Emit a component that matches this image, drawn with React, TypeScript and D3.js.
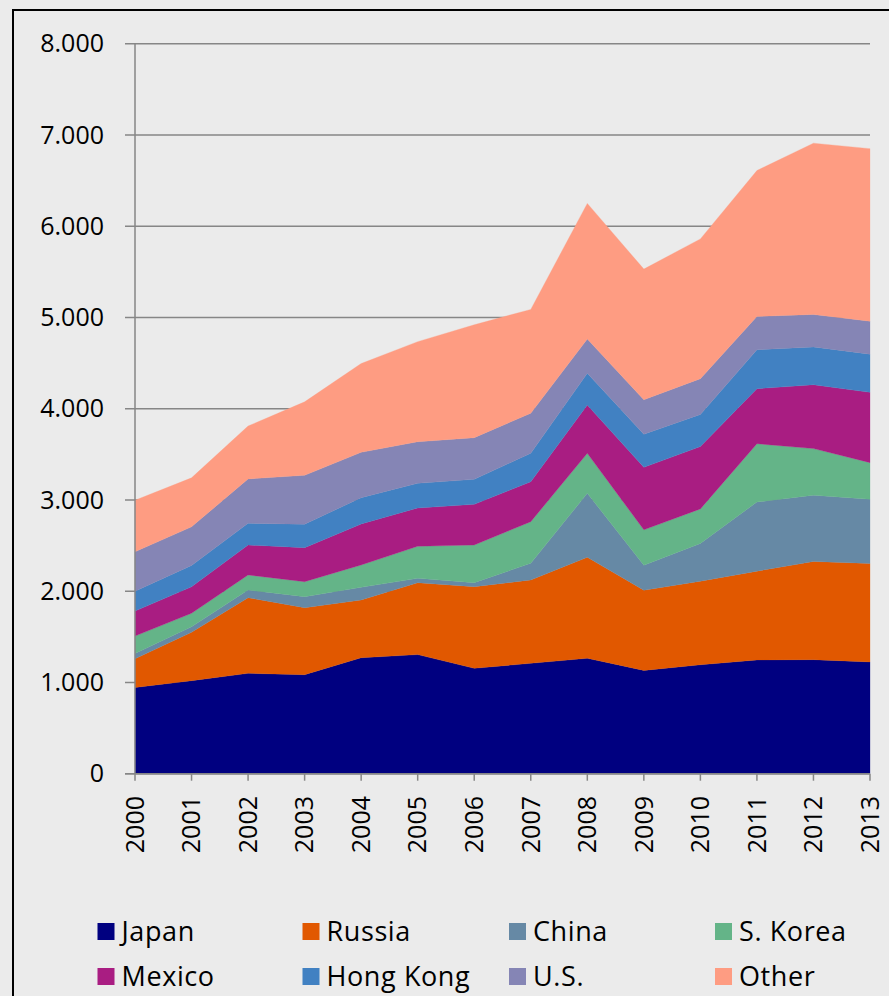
import React from "react";
import * as d3 from "d3";

const years = [2000, 2001, 2002, 2003, 2004, 2005, 2006, 2007, 2008, 2009, 2010, 2011, 2012, 2013];
const japan = [945, 1020, 1100, 1085, 1271, 1305, 1155, 1210, 1265, 1132, 1194, 1247, 1250, 1225];
const russia = [315, 530, 829, 734, 633, 788, 895, 913, 1107, 879, 916, 973, 1076, 1079];
const china = [58, 61, 84, 121, 139, 48, 43, 183, 701, 274, 414, 757, 726, 704];
const sKorea = [190, 147, 165, 164, 244, 351, 413, 456, 438, 388, 378, 639, 511, 401];
const mexico = [274, 290, 328, 373, 449, 420, 446, 438, 530, 684, 683, 603, 700, 770];
const hongKong = [218, 234, 238, 256, 289, 270, 274, 311, 347, 363, 352, 427, 414, 419];
const us = [432, 423, 486, 537, 497, 456, 456, 439, 376, 378, 392, 365, 356, 361];
const other = [565, 537, 580, 805, 973, 1097, 1238, 1138, 1486, 1432, 1532, 1599, 1877, 1891];

const seriesNames = ["Japan", "Russia", "China", "S. Korea", "Mexico", "Hong Kong", "U.S.", "Other"];
const seriesValues = [japan, russia, china, sKorea, mexico, hongKong, us, other];
const seriesColors = ["#000080", "#E15800", "#6689A5", "#64B488", "#A91D82", "#4181C2", "#8585B5", "#FE9C82"];
const yTicks = [0, 1000, 2000, 3000, 4000, 5000, 6000, 7000, 8000];
const yTickLabels = ["0", "1.000", "2.000", "3.000", "4.000", "5.000", "6.000", "7.000", "8.000"];

const W = 889;
const H = 996;
const FONT = "'Open Sans', 'DejaVu Sans', sans-serif";

export default function App() {
  const x = d3.scaleLinear().domain([2000, 2013]).range([135, 870]);
  const y = d3.scaleLinear().domain([0, 8000]).range([773.7, 43.7]);

  const rows = years.map((yr, i) => {
    const r: any = { year: yr };
    seriesNames.forEach((n, k) => (r[n] = seriesValues[k][i]));
    return r;
  });
  const stacked = d3.stack<any>().keys(seriesNames)(rows);
  const area = d3
    .area<any>()
    .x((d) => x(d.data.year))
    .y0((d) => y(d[0]))
    .y1((d) => y(d[1]));

  const gridColor = "#868686";
  const legendCols = [97.5, 302.5, 509, 715];
  const legendRows = [931.5, 976.5];

  return (
    <>
      <style>{"body{margin:0;background:#ebebeb}"}</style>
      <svg width={W} height={H} style={{ display: "block", background: "#ebebeb" }}>
        <rect x={13} y={10} width={W + 20} height={H + 20} fill="#ebebeb" stroke="#000" strokeWidth={2} />
        {yTicks.map((t) => (
          <line key={"g" + t} x1={125} x2={870} y1={y(t)} y2={y(t)} stroke={gridColor} strokeWidth={1.5} />
        ))}
        {stacked.map((s, k) => (
          <path key={s.key} d={area(s) || ""} fill={seriesColors[k]} stroke={seriesColors[k]} strokeWidth={0.3} />
        ))}
        <line x1={135} x2={135} y1={y(8000)} y2={y(0)} stroke={gridColor} strokeWidth={1.5} />
        <line x1={125} x2={870} y1={y(0)} y2={y(0)} stroke={gridColor} strokeWidth={1.5} />
        {years.map((yr) => (
          <line key={"xt" + yr} x1={x(yr)} x2={x(yr)} y1={y(0)} y2={y(0) + 7} stroke={gridColor} strokeWidth={1.5} />
        ))}
        {yTicks.map((t, i) => (
          <text key={"yl" + t} x={104} y={y(t)} dy="0.35em" textAnchor="end" fontFamily={FONT} fontSize={25} fill="#000">
            {yTickLabels[i]}
          </text>
        ))}
        {years.map((yr) => (
          <text
            key={"xl" + yr}
            transform={`translate(${x(yr)},${796}) rotate(-90)`}
            textAnchor="end"
            dy="0.35em"
            fontFamily={FONT}
            fontSize={25}
            fill="#000"
          >
            {yr}
          </text>
        ))}
        {seriesNames.map((n, k) => {
          const cx = legendCols[k % 4];
          const cy = legendRows[Math.floor(k / 4)];
          return (
            <g key={"lg" + n}>
              <rect x={cx} y={cy - 8.5} width={17} height={17} fill={seriesColors[k]} />
              <text x={cx + 24} y={cy} dy="0.35em" fontFamily={FONT} fontSize={27} letterSpacing={0.6} fill="#000">
                {n}
              </text>
            </g>
          );
        })}
      </svg>
    </>
  );
}
